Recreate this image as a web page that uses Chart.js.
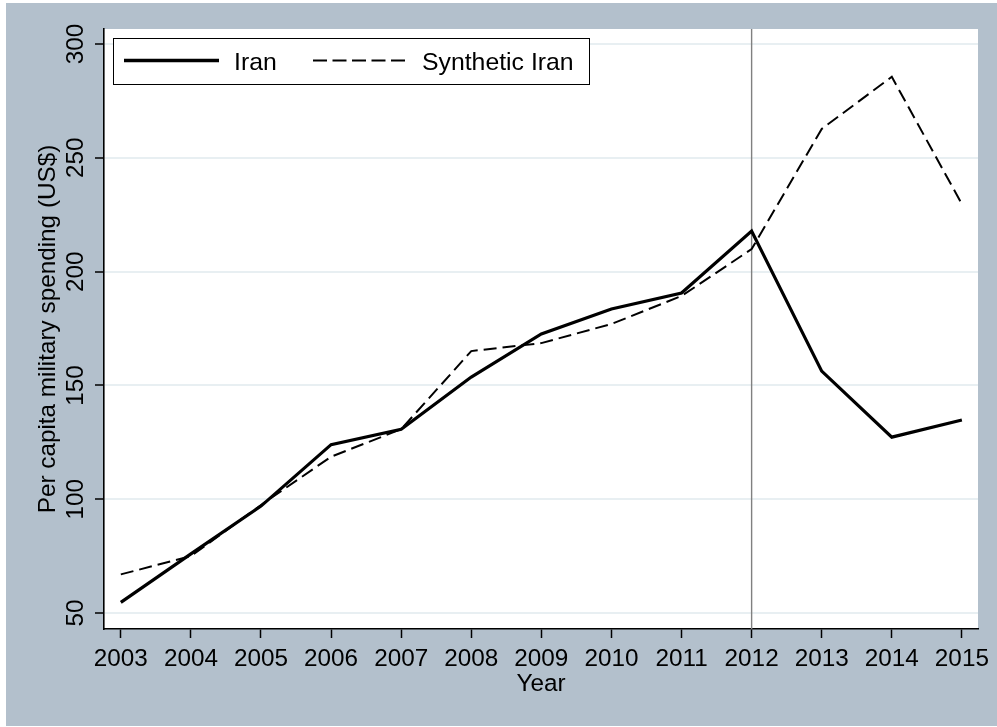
<!DOCTYPE html>
<html>
<head>
<meta charset="utf-8">
<script src="https://cdn.jsdelivr.net/npm/chart.js@4/dist/chart.umd.min.js"></script>
<style>
  html, body { margin: 0; padding: 0; background: #ffffff; }
  #wrap { position: relative; width: 997px; height: 727px; }
  canvas { display: block; }
</style>
</head>
<body>
<div id="wrap"><canvas id="c" width="997" height="727"></canvas></div>
<script>
// ---- data ----
const years = [2003, 2004, 2005, 2006, 2007, 2008, 2009, 2010, 2011, 2012, 2013, 2014, 2015];
const iran = [54.7, 76.0, 97.0, 124.0, 130.7, 153.7, 172.6, 183.6, 190.6, 217.8, 156.3, 127.3, 134.8];
const syntheticIran = [67.0, 75.0, 97.5, 118.7, 130.8, 165.1, 168.6, 177.0, 189.3, 209.9, 262.7, 285.6, 229.7];
const yTicks = [50, 100, 150, 200, 250, 300];
const seriesLabels = ['Iran', 'Synthetic Iran'];
const treatmentYear = 2012;

const FONT = '"Liberation Sans", Arial, Helvetica, sans-serif';

const bgPlugin = {
  id: 'bg',
  beforeDraw(chart) {
    const ctx = chart.ctx;
    const a = chart.chartArea;
    ctx.save();
    ctx.fillStyle = '#ffffff';
    ctx.fillRect(0, 0, chart.width, chart.height);
    ctx.fillStyle = '#b3c0cc';
    ctx.fillRect(6, 3, chart.width - 6, chart.height - 4);
    ctx.fillStyle = '#ffffff';
    ctx.fillRect(a.left, a.top, a.right - a.left, a.bottom - a.top);
    ctx.restore();
  }
};

const vlinePlugin = {
  id: 'vline',
  beforeDatasetsDraw(chart) {
    const ctx = chart.ctx;
    const a = chart.chartArea;
    const x = chart.scales.x.getPixelForValue(treatmentYear);
    ctx.save();
    ctx.strokeStyle = '#808080';
    ctx.lineWidth = 1.4;
    ctx.beginPath();
    ctx.moveTo(x, a.top);
    ctx.lineTo(x, a.bottom);
    ctx.stroke();
    ctx.restore();
  }
};

const legendPlugin = {
  id: 'boxLegend',
  afterDraw(chart) {
    const ctx = chart.ctx;
    const a = chart.chartArea;
    const bx = a.left + 9.5, by = a.top + 9.5, bw = 476, bh = 46;
    ctx.save();
    ctx.fillStyle = '#ffffff';
    ctx.fillRect(bx, by, bw, bh);
    ctx.strokeStyle = '#000000';
    ctx.lineWidth = 1;
    ctx.strokeRect(bx, by, bw, bh);
    const ly = by + 22;
    const items = [
      { x0: 124, x1: 219, tx: 234 },
      { x0: 313, x1: 406, tx: 422 }
    ];
    chart.data.datasets.forEach((ds, i) => {
      const it = items[i];
      ctx.strokeStyle = ds.borderColor;
      ctx.lineWidth = i === 0 ? 3.4 : 2;
      ctx.setLineDash(i === 0 ? [] : [14, 5.5]);
      ctx.beginPath();
      ctx.moveTo(it.x0, ly);
      ctx.lineTo(it.x1, ly);
      ctx.stroke();
      ctx.setLineDash([]);
      ctx.fillStyle = '#000000';
      ctx.font = '24.8px ' + FONT;
      ctx.textBaseline = 'alphabetic';
      ctx.textAlign = 'left';
      ctx.fillText(ds.label, it.tx, 70);
    });
    ctx.restore();
  }
};

new Chart(document.getElementById('c'), {
  type: 'line',
  data: {
    datasets: [
      {
        label: seriesLabels[0],
        data: years.map((y, i) => ({ x: y, y: iran[i] })),
        borderColor: '#000000',
        borderWidth: 3.2,
        pointRadius: 0,
        tension: 0,
        fill: false
      },
      {
        label: seriesLabels[1],
        data: years.map((y, i) => ({ x: y, y: syntheticIran[i] })),
        borderColor: '#000000',
        borderWidth: 2,
        borderDash: [13, 6],
        pointRadius: 0,
        tension: 0,
        fill: false
      }
    ]
  },
  options: {
    responsive: false,
    animation: false,
    devicePixelRatio: 1,
    layout: { padding: { top: 29, right: 19, left: 0, bottom: 0 } },
    plugins: {
      legend: { display: false },
      tooltip: { enabled: false }
    },
    scales: {
      x: {
        type: 'linear',
        min: 2002.76,
        max: 2015.23,
        afterBuildTicks: (s) => { s.ticks = years.map(v => ({ value: v })); },
        afterFit: (s) => { s.height = 98; s.paddingLeft = 0; s.paddingRight = 0; },
        ticks: {
          autoSkip: false,
          maxRotation: 0,
          minRotation: 0,
          padding: 7,
          color: '#000000',
          font: { family: FONT, size: 24.3 },
          callback: (v) => String(v)
        },
        grid: {
          display: true,
          drawOnChartArea: false,
          drawTicks: true,
          tickLength: 9,
          tickColor: '#000000',
          tickWidth: 1.5
        },
        border: { display: true, color: '#000000', width: 1.6 },
        title: {
          display: true,
          text: 'Year',
          color: '#000000',
          font: { family: FONT, size: 24.3 },
          padding: { top: 0, bottom: 28 }
        }
      },
      y: {
        type: 'linear',
        min: 43,
        max: 306.6,
        afterBuildTicks: (s) => { s.ticks = yTicks.map(v => ({ value: v })); },
        afterFit: (s) => { s.width = 104; s.paddingTop = 0; s.paddingBottom = 0; },
        ticks: {
          minRotation: 90,
          maxRotation: 90,
          crossAlign: 'center',
          padding: -1.5,
          color: '#000000',
          font: { family: FONT, size: 24.3 },
          callback: (v) => String(v)
        },
        grid: {
          display: true,
          drawOnChartArea: true,
          drawTicks: true,
          tickLength: 9,
          color: '#e8eff2',
          lineWidth: 2,
          tickColor: '#000000',
          tickWidth: 1.5
        },
        border: { display: true, color: '#000000', width: 1.6 },
        title: {
          display: true,
          text: 'Per capita military spending (US$)',
          color: '#000000',
          font: { family: FONT, size: 24.3 },
          padding: { top: 34, bottom: 0 }
        }
      }
    }
  },
  plugins: [bgPlugin, vlinePlugin, legendPlugin]
});
</script>
</body>
</html>
